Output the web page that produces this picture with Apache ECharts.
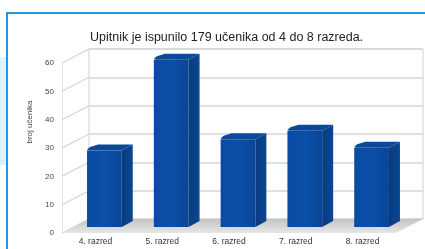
<!DOCTYPE html>
<html>
<head>
<meta charset="utf-8">
<script src="https://cdn.jsdelivr.net/npm/echarts@6/dist/echarts.min.js"></script>
<style>html,body{margin:0;padding:0;background:#fff}#c{width:425px;height:249px}</style>
</head>
<body>
<div id="c"></div>
<script>
const categories = ['4. razred', '5. razred', '6. razred', '7. razred', '8. razred'];
const students = [27, 59, 31, 34, 28];
const yTicks = [0, 10, 20, 30, 40, 50, 60];
const titleText = 'Upitnik je ispunilo 179 učenika od 4 do 8 razreda.';
const yAxisTitle = 'broj učenika';

const DEPTH_X = 27, DEPTH_Y = -14;   // back wall offset
const BAR_OX = 9, BAR_OY = -6;       // bar position in depth
const BAR_DX = 11, BAR_DY = -6;      // bar thickness

const chart = echarts.init(document.getElementById('c'), null, {renderer: 'canvas'});

function renderBar(params, api) {
  const i = api.value(0), v = api.value(1);
  const base = api.coord([i, 0]);
  const top = api.coord([i, v]);
  const bw = api.size([1, 0])[0] * 0.52;
  const x0 = base[0] - bw / 2 + BAR_OX, x1 = x0 + bw;
  const yb = base[1] + BAR_OY, yt = top[1] + BAR_OY;
  return {
    type: 'group',
    children: [
      {type: 'polygon', shape: {points: [[x1, yb], [x1 + BAR_DX, yb + BAR_DY], [x1 + BAR_DX, yt + BAR_DY], [x1, yt]]},
       style: {fill: new echarts.graphic.LinearGradient(0, 0, 1, 0, [{offset: 0, color: '#093c80'}, {offset: 1, color: '#0a4692'}])}},
      {type: 'polygon', shape: {points: [[x0 + 2, yt], [x1, yt], [x1 + BAR_DX, yt + BAR_DY], [x0 + BAR_DX, yt + BAR_DY], [x0 + 3, yt - 3.5], [x0, yt - 1]]},
       style: {fill: '#0c4a99'}},
      {type: 'rect', shape: {x: x0, y: yt, width: bw, height: yb - yt},
       style: {fill: new echarts.graphic.LinearGradient(0, 0, 1, 0, [{offset: 0, color: '#0a4aa3'}, {offset: 0.5, color: '#0b50aa'}, {offset: 1, color: '#094596'}])}}
    ]
  };
}

function renderDiag(params, api) {
  const v = api.value(0);
  const p = api.coord([0, v]);
  const x = params.coordSys.x;
  return {type: 'line', shape: {x1: x, y1: p[1], x2: x + DEPTH_X, y2: p[1] + DEPTH_Y},
          style: {stroke: '#d4d4d4', lineWidth: 1.2}};
}

function renderFloor(params, api) {
  const cs = params.coordSys;
  const y0 = api.coord([0, 0])[1];
  const xl = cs.x, xr = cs.x + cs.width;
  return {type: 'polygon', shape: {points: [[xl, y0], [xr, y0], [xr + DEPTH_X, y0 + DEPTH_Y], [xl + DEPTH_X, y0 + DEPTH_Y]]},
          style: {fill: new echarts.graphic.LinearGradient(0, 1, 0, 0, [{offset: 0, color: '#e6e6e6'}, {offset: 1, color: '#c4c4c4'}])}};
}

chart.setOption({
  animation: false,
  backgroundColor: '#ffffff',
  textStyle: {fontFamily: 'Liberation Sans, Arial, sans-serif'},
  title: {text: titleText, left: 85, top: 26,
          textStyle: {fontSize: 12.5, fontWeight: 'normal', color: '#222', fontFamily: 'Liberation Sans, Arial, sans-serif'}},
  graphic: [
    {type: 'rect', z: -10, shape: {x: 0, y: 57, width: 6, height: 108}, style: {fill: '#e2f1fb'}},
    {type: 'rect', z: -10, shape: {x: 7, y: 13, width: 430, height: 250}, style: {fill: 'none', stroke: '#1e9be0', lineWidth: 2}},
    {type: 'text', x: 30, y: 122, rotation: Math.PI / 2, z: 5,
     style: {text: yAxisTitle, fontSize: 8, fill: '#444', align: 'center', verticalAlign: 'middle', fontFamily: 'Liberation Sans, Arial, sans-serif'}}
  ],
  grid: [
    {left: 62, right: 29, top: 63, bottom: 16},
    {left: 62 + DEPTH_X, right: 29 - DEPTH_X, top: 63 + DEPTH_Y, bottom: 16 - DEPTH_Y, show: true, borderColor: '#d0d0d0', borderWidth: 1, backgroundColor: 'transparent'}
  ],
  xAxis: [
    {type: 'category', gridIndex: 0, data: categories,
     axisLine: {show: false}, axisTick: {show: false},
     axisLabel: {fontSize: 8.5, color: '#333', margin: 4}},
    {type: 'category', gridIndex: 1, data: categories, show: false}
  ],
  yAxis: [
    {type: 'value', gridIndex: 0, min: 0, max: 60, interval: 10,
     axisLine: {show: true, lineStyle: {color: '#e0e0e0', type: 'dotted'}}, axisTick: {show: false}, splitLine: {show: false},
     axisLabel: {fontSize: 8, color: '#444', margin: 8, customValues: yTicks}},
    {type: 'value', gridIndex: 1, min: 0, max: 60, interval: 10,
     axisLine: {show: false}, axisTick: {show: false}, axisLabel: {show: false},
     splitLine: {show: true, lineStyle: {color: '#d6d6d6', width: 1.5}}}
  ],
  series: [
    {type: 'custom', xAxisIndex: 0, yAxisIndex: 0, z: 1, renderItem: renderDiag, data: yTicks.map(v => [v]), silent: true},
    {type: 'custom', xAxisIndex: 0, yAxisIndex: 0, z: 2, renderItem: renderFloor, data: [[0]], silent: true},
    {type: 'custom', xAxisIndex: 0, yAxisIndex: 0, z: 3, renderItem: renderBar,
     encode: {x: 0, y: 1}, data: categories.map((c, i) => [i, students[i]])},
    {type: 'line', xAxisIndex: 1, yAxisIndex: 1, data: [], silent: true}
  ]
});
</script>
</body>
</html>
